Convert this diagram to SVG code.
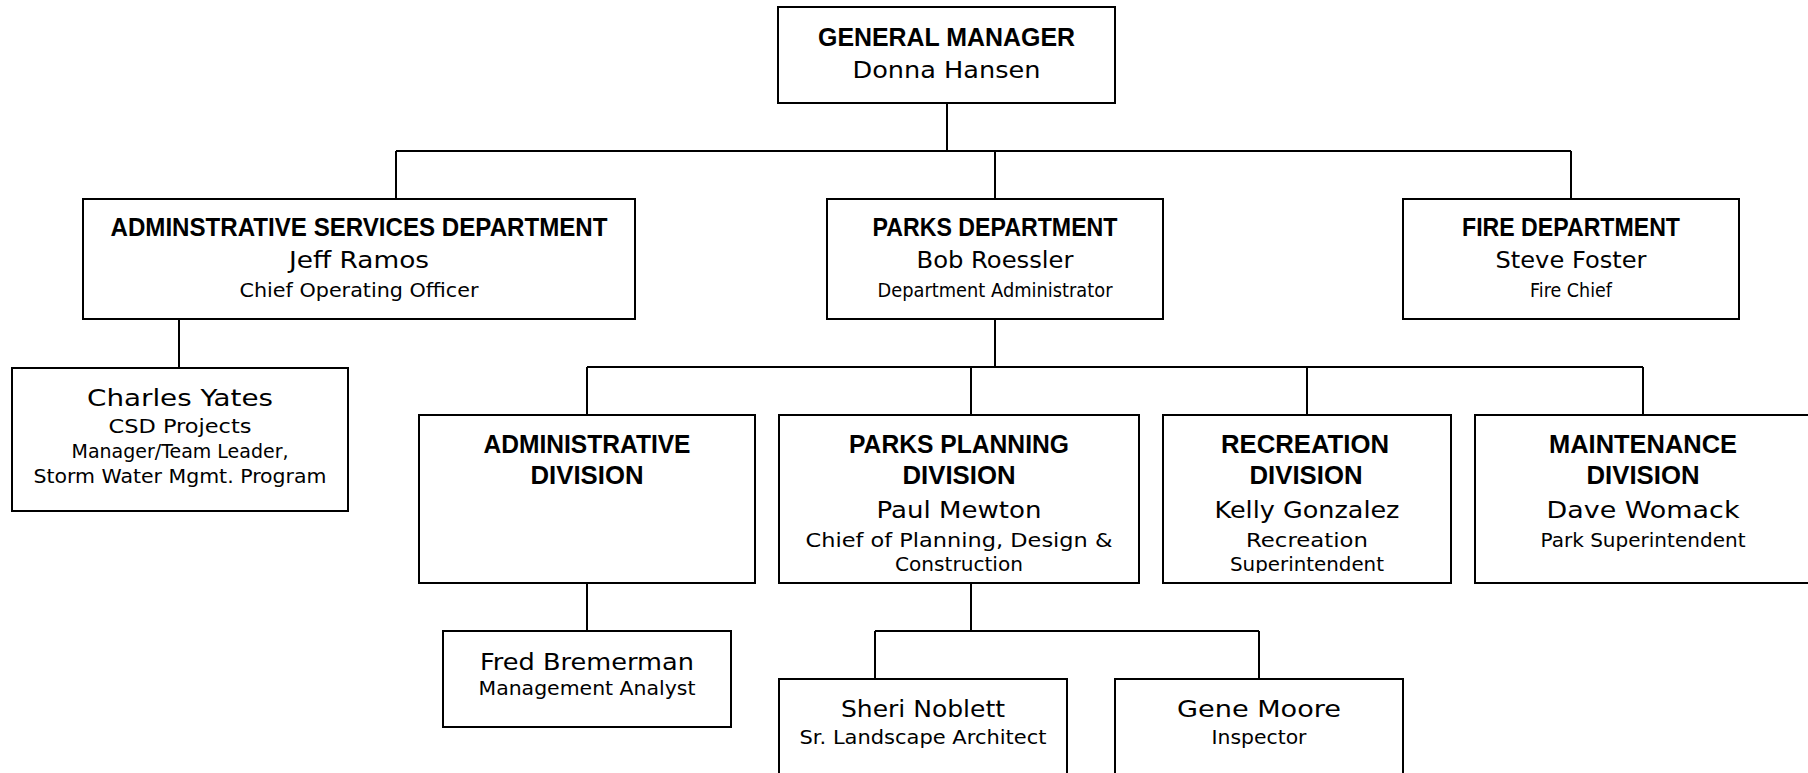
<svg xmlns="http://www.w3.org/2000/svg" width="1808" height="773" viewBox="0 0 1808 773">
<style>
.box{fill:#fff;stroke:#000;stroke-width:2}
.con{fill:none;stroke:#000;stroke-width:2}
text{text-anchor:middle;fill:#000}
.t{font-family:"Liberation Sans",Arial,sans-serif;font-weight:bold;font-size:25px}
.n{font-family:"DejaVu Sans",sans-serif;font-size:23px}
.r{font-family:"DejaVu Sans",sans-serif;font-size:19px}
</style>
<defs>
<clipPath id="recClip"><rect x="1163" y="415" width="288" height="158"/></clipPath>
</defs>
<rect width="1808" height="773" fill="#fff"/>
<g id="connectors">
<path class="con" d="M947 103V151M396 151H1571M396 151V199M995 151V199M1571 151V199"/>
<path class="con" d="M179 319V368"/>
<path class="con" d="M995 319V367M587 367H1643M587 367V415M971 367V415M1307 367V415M1643 367V415"/>
<path class="con" d="M587 583V631"/>
<path class="con" d="M971 583V631M875 631H1259M875 631V679M1259 631V679"/>
</g>
<g id="general-manager">
<rect class="box" x="778" y="7" width="337" height="96"/>
<text class="t" x="946.5" y="45.7" textLength="257" lengthAdjust="spacingAndGlyphs">GENERAL MANAGER</text>
<text class="n" x="946.5" y="78.3" textLength="188" lengthAdjust="spacingAndGlyphs">Donna Hansen</text>
</g>
<g id="admin-services">
<rect class="box" x="83" y="199" width="552" height="120"/>
<text class="t" x="359" y="235.7" textLength="497" lengthAdjust="spacingAndGlyphs">ADMINSTRATIVE SERVICES DEPARTMENT</text>
<text class="n" x="359" y="268.3" textLength="140" lengthAdjust="spacingAndGlyphs">Jeff Ramos</text>
<text class="r" x="359" y="296.7" textLength="239" lengthAdjust="spacingAndGlyphs">Chief Operating Officer</text>
</g>
<g id="parks-department">
<rect class="box" x="827" y="199" width="336" height="120"/>
<text class="t" x="995" y="235.7" textLength="245" lengthAdjust="spacingAndGlyphs">PARKS DEPARTMENT</text>
<text class="n" x="995" y="268.3" textLength="157" lengthAdjust="spacingAndGlyphs">Bob Roessler</text>
<text class="r" x="995" y="296.7" textLength="235" lengthAdjust="spacingAndGlyphs">Department Administrator</text>
</g>
<g id="fire-department">
<rect class="box" x="1403" y="199" width="336" height="120"/>
<text class="t" x="1571" y="235.7" textLength="218" lengthAdjust="spacingAndGlyphs">FIRE DEPARTMENT</text>
<text class="n" x="1571" y="268.3" textLength="151" lengthAdjust="spacingAndGlyphs">Steve Foster</text>
<text class="r" x="1571" y="296.7" textLength="82" lengthAdjust="spacingAndGlyphs">Fire Chief</text>
</g>
<g id="charles-yates">
<rect class="box" x="12" y="368" width="336" height="143"/>
<text class="n" x="180" y="405.7" textLength="186" lengthAdjust="spacingAndGlyphs">Charles Yates</text>
<text class="r" x="180" y="433.3" textLength="143" lengthAdjust="spacingAndGlyphs">CSD Projects</text>
<text class="r" x="180" y="458" textLength="217" lengthAdjust="spacingAndGlyphs">Manager/Team Leader,</text>
<text class="r" x="180" y="482.7" textLength="293" lengthAdjust="spacingAndGlyphs">Storm Water Mgmt. Program</text>
</g>
<g id="administrative-division">
<rect class="box" x="419" y="415" width="336" height="168"/>
<text class="t" x="587" y="453.3" textLength="207" lengthAdjust="spacingAndGlyphs">ADMINISTRATIVE</text>
<text class="t" x="587" y="484" textLength="113" lengthAdjust="spacingAndGlyphs">DIVISION</text>
</g>
<g id="parks-planning-division">
<rect class="box" x="779" y="415" width="360" height="168"/>
<text class="t" x="959" y="453.3" textLength="220" lengthAdjust="spacingAndGlyphs">PARKS PLANNING</text>
<text class="t" x="959" y="484" textLength="113" lengthAdjust="spacingAndGlyphs">DIVISION</text>
<text class="n" x="959" y="518.3" textLength="165" lengthAdjust="spacingAndGlyphs">Paul Mewton</text>
<text class="r" x="959" y="546.7" textLength="307" lengthAdjust="spacingAndGlyphs">Chief of Planning, Design &amp;</text>
<text class="r" x="959" y="570.7" textLength="128" lengthAdjust="spacingAndGlyphs">Construction</text>
</g>
<g id="recreation-division">
<rect class="box" x="1163" y="415" width="288" height="168"/>
<g clip-path="url(#recClip)">
<text class="t" x="1305" y="453.3" textLength="168" lengthAdjust="spacingAndGlyphs">RECREATION</text>
<text class="t" x="1306" y="484" textLength="113" lengthAdjust="spacingAndGlyphs">DIVISION</text>
<text class="n" x="1307" y="518.3" textLength="185" lengthAdjust="spacingAndGlyphs">Kelly Gonzalez</text>
<text class="r" x="1307" y="546.7" textLength="122" lengthAdjust="spacingAndGlyphs">Recreation</text>
<text class="r" x="1307" y="570.7" textLength="154" lengthAdjust="spacingAndGlyphs">Superintendent</text>
</g>
</g>
<g id="maintenance-division">
<rect class="box" x="1475" y="415" width="336" height="168"/>
<text class="t" x="1643" y="453.3" textLength="188" lengthAdjust="spacingAndGlyphs">MAINTENANCE</text>
<text class="t" x="1643" y="484" textLength="113" lengthAdjust="spacingAndGlyphs">DIVISION</text>
<text class="n" x="1643" y="518.3" textLength="193" lengthAdjust="spacingAndGlyphs">Dave Womack</text>
<text class="r" x="1643" y="546.7" textLength="205" lengthAdjust="spacingAndGlyphs">Park Superintendent</text>
</g>
<g id="fred-bremerman">
<rect class="box" x="443" y="631" width="288" height="96"/>
<text class="n" x="587" y="670" textLength="214" lengthAdjust="spacingAndGlyphs">Fred Bremerman</text>
<text class="r" x="587" y="695" textLength="217" lengthAdjust="spacingAndGlyphs">Management Analyst</text>
</g>
<g id="sheri-noblett">
<rect class="box" x="779" y="679" width="288" height="120"/>
<text class="n" x="923" y="716.7" textLength="164" lengthAdjust="spacingAndGlyphs">Sheri Noblett</text>
<text class="r" x="923" y="744" textLength="247" lengthAdjust="spacingAndGlyphs">Sr. Landscape Architect</text>
</g>
<g id="gene-moore">
<rect class="box" x="1115" y="679" width="288" height="120"/>
<text class="n" x="1259" y="716.7" textLength="164" lengthAdjust="spacingAndGlyphs">Gene Moore</text>
<text class="r" x="1259" y="744" textLength="95" lengthAdjust="spacingAndGlyphs">Inspector</text>
</g>
</svg>
